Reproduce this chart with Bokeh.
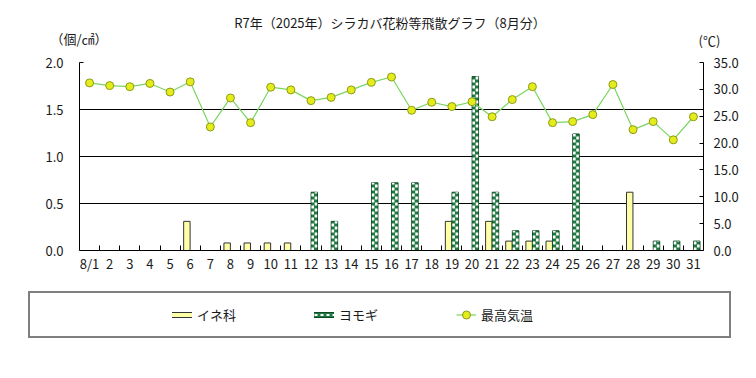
from bokeh.plotting import figure
from bokeh.models import (ColumnDataSource, Range1d, LinearAxis, FixedTicker, NumeralTickFormatter,
                          Legend, LegendItem, Label)
from bokeh.transform import dodge
from bokeh.embed import file_html
from bokeh.resources import INLINE

# ---------------- data ----------------
days = list(range(1, 32))
day_labels = ["8/1"] + [str(d) for d in range(2, 32)]
ine = [0, 0, 0, 0, 0, 0.31, 0, 0.08, 0.08, 0.08, 0.08, 0, 0, 0, 0, 0, 0, 0, 0.31, 0,
       0.31, 0.10, 0.10, 0.10, 0, 0, 0, 0.62, 0, 0, 0]
yomogi = [0, 0, 0, 0, 0, 0, 0, 0, 0, 0, 0, 0.62, 0.31, 0, 0.72, 0.72, 0.72, 0, 0.62, 1.85,
          0.62, 0.21, 0.21, 0.21, 1.24, 0, 0, 0, 0.10, 0.10, 0.10]
temps = [31.2, 30.7, 30.5, 31.1, 29.5, 31.4, 23.0, 28.4, 23.8, 30.4, 29.9, 27.9, 28.5, 29.9, 31.3,
         32.3, 26.1, 27.6, 26.8, 27.7, 24.9, 28.1, 30.5, 23.8, 24.0, 25.3, 30.9, 22.5, 24.0, 20.6, 24.9]
left_ticks = [0, 0.5, 1.0, 1.5, 2.0]
grid_ticks = [0.5, 1.0, 1.5]
right_ticks = [0, 5, 10, 15, 20, 25, 30, 35]
title_text = "R7年（2025年）シラカバ花粉等飛散グラフ（8月分）"
unit_left = "（個/㎠）"
unit_right = "(℃)"
series_names = ["イネ科", "ヨモギ", "最高気温"]

# ---------------- layout constants (pixels) ----------------
W, H = 756, 370
PLOT_L, PLOT_R, PLOT_T, PLOT_B = 79, 703, 62, 250   # value area
X_LO, X_HI = 0.5, 31.5          # category span
Y_LO, Y_HI = 0.0, 2.0           # pollen axis
T_LO, T_HI = 0.0, 35.0          # temperature axis
sx = (PLOT_R - PLOT_L) / (X_HI - X_LO)
sy = (PLOT_B - PLOT_T) / (Y_HI - Y_LO)
x_range = Range1d(X_LO - PLOT_L / sx, X_HI + (W - PLOT_R) / sx)
y_range = Range1d(Y_LO - (H - PLOT_B) / sy, Y_HI + PLOT_T / sy)
k = (T_HI - T_LO) / (Y_HI - Y_LO)
t_range = Range1d(y_range.start * k, y_range.end * k)

FONT = "Noto Sans CJK JP"
TXT = "#1a1a1a"
INE_FILL = "#ffffa8"
YOMO_DARK = "#1e7a40"
YOMO_EDGE = "#0f4a25"
LINE_C = "#7ad660"
MARK_FILL = "#e4ec1c"
MARK_LINE = "#8c9a18"
OFF = 0.165   # offset of each bar from the day centre
BW = 0.32     # bar width (category units)

src_ine = ColumnDataSource(dict(day=[d for d, v in zip(days, ine) if v > 0],
                                val=[v for v in ine if v > 0]))
src_yom = ColumnDataSource(dict(day=[d for d, v in zip(days, yomogi) if v > 0],
                                val=[v for v in yomogi if v > 0]))
src_t = ColumnDataSource(dict(day=days, t=temps))
src_grid = ColumnDataSource(dict(y=grid_ticks))
nan_src = ColumnDataSource(dict(x=[float("nan")], y=[float("nan")]))

p = figure(width=W, height=H, x_range=x_range, y_range=y_range,
           output_backend="svg", toolbar_location=None,
           min_border=0, min_border_left=0, min_border_right=0, min_border_top=0,
           min_border_bottom=0, x_axis_location=None, y_axis_location=None)
p.outline_line_color = None
p.background_fill_color = "white"
p.border_fill_color = "white"
p.xgrid.visible = False
p.ygrid.visible = False
p.extra_y_ranges = {"temp": t_range}

# horizontal grid lines over the value area
p.segment(x0=X_LO, y0="y", x1=X_HI, y1="y", source=src_grid, line_color="black", line_width=1)

# bars
p.vbar(x=dodge("day", -OFF), top="val", width=BW, source=src_ine,
       fill_color=INE_FILL, line_color="#333333", line_width=1)
p.vbar(x=dodge("day", OFF), top="val", width=BW, source=src_yom,
       fill_color=YOMO_DARK, line_color=YOMO_EDGE, line_width=1)
# checker pattern of the ヨモギ bars: two dashed white columns, offset by one square
p.segment(x0=dodge("day", OFF - 0.08), y0=0, x1=dodge("day", OFF - 0.08), y1="val",
          source=src_yom, line_color="white", line_width=2.6, line_dash="3 3", line_dash_offset=0)
p.segment(x0=dodge("day", OFF + 0.08), y0=0, x1=dodge("day", OFF + 0.08), y1="val",
          source=src_yom, line_color="white", line_width=2.6, line_dash="3 3", line_dash_offset=3)

# temperature
t_line = p.line("day", "t", source=src_t, y_range_name="temp", line_color=LINE_C, line_width=1.2)
t_pts = p.scatter("day", "t", source=src_t, y_range_name="temp", size=8,
                  fill_color=MARK_FILL, line_color=MARK_LINE, line_width=1)

# legend-only swatches (nothing drawn in the plot)
sp1 = p.line("x", "y", source=nan_src, line_alpha=0)
sp2 = p.line("x", "y", source=nan_src, line_alpha=0)
ine_o = p.line("x", "y", source=nan_src, line_color="#333333", line_width=6, line_cap="square")
ine_i = p.line("x", "y", source=nan_src, line_color=INE_FILL, line_width=4, line_cap="square")
yo_o = p.line("x", "y", source=nan_src, line_color=YOMO_EDGE, line_width=6, line_cap="square")
yo_d = p.line("x", "y", source=nan_src, line_color=YOMO_DARK, line_width=4, line_cap="square")
yo_w = p.line("x", "y", source=nan_src, line_color="white", line_width=2, line_dash="3 3")

# axes fixed on the edges of the value area
xa = LinearAxis(fixed_location=Y_LO, bounds=(X_LO, X_HI),
                ticker=FixedTicker(ticks=days, minor_ticks=[d + 0.5 for d in days[:-1]]))
xa.major_label_overrides = {d: lab for d, lab in zip(days, day_labels)}
xa.major_tick_line_color = None
xa.major_tick_in = 0
xa.major_tick_out = 0
xa.minor_tick_in = 5
xa.minor_tick_out = 0
xa.minor_tick_line_color = "black"
xa.axis_line_color = "black"
xa.major_label_standoff = 3
p.add_layout(xa, "below")

ya = LinearAxis(fixed_location=X_LO, bounds=(Y_LO, Y_HI), ticker=FixedTicker(ticks=left_ticks),
                formatter=NumeralTickFormatter(format="0.0"))
ya.major_tick_in = 4
ya.major_tick_out = 0
ya.major_tick_line_color = "black"
ya.minor_tick_line_color = None
ya.major_label_standoff = 16
ya.axis_line_color = "black"
p.add_layout(ya, "left")

ra = LinearAxis(y_range_name="temp", fixed_location=X_HI, bounds=(T_LO, T_HI),
                ticker=FixedTicker(ticks=right_ticks), formatter=NumeralTickFormatter(format="0.0"))
ra.major_tick_in = 4
ra.major_tick_out = 0
ra.major_tick_line_color = "black"
ra.minor_tick_line_color = None
ra.major_label_standoff = 10
ra.axis_line_color = "black"
p.add_layout(ra, "right")

for ax in (xa, ya, ra):
    ax.major_label_text_font = FONT
    ax.major_label_text_font_size = "13px"
    ax.major_label_text_color = TXT

# title and unit captions (screen px from the bottom-left of the canvas)
for txt, px, py in ((title_text, 389.5, 22), (unit_left, 78.5, 38), (unit_right, 709, 40)):
    p.add_layout(Label(x=px, y=H - py, x_units="screen", y_units="screen", text=txt,
                       text_align="center", text_baseline="middle", text_font=FONT,
                       text_font_size="13px", text_color=TXT))

# legend box
leg = Legend(items=[LegendItem(label="", renderers=[sp1]),
                    LegendItem(label=series_names[0], renderers=[ine_o, ine_i]),
                    LegendItem(label=series_names[1], renderers=[yo_o, yo_d, yo_w]),
                    LegendItem(label=series_names[2], renderers=[t_line, t_pts]),
                    LegendItem(label="", renderers=[sp2])],
             orientation="horizontal", nrows=1, ncols=5,
             location=(28, H - 338), padding=0, margin=0,
             spacing=11, glyph_width=20, glyph_height=43, label_height=43, label_width=106,
             label_standoff=5, border_line_color="black", border_line_width=2,
             background_fill_color="white", background_fill_alpha=1,
             label_text_font=FONT, label_text_font_size="13px", label_text_color=TXT)
p.add_layout(leg)

open("out.html", "w").write(file_html(p, INLINE))
